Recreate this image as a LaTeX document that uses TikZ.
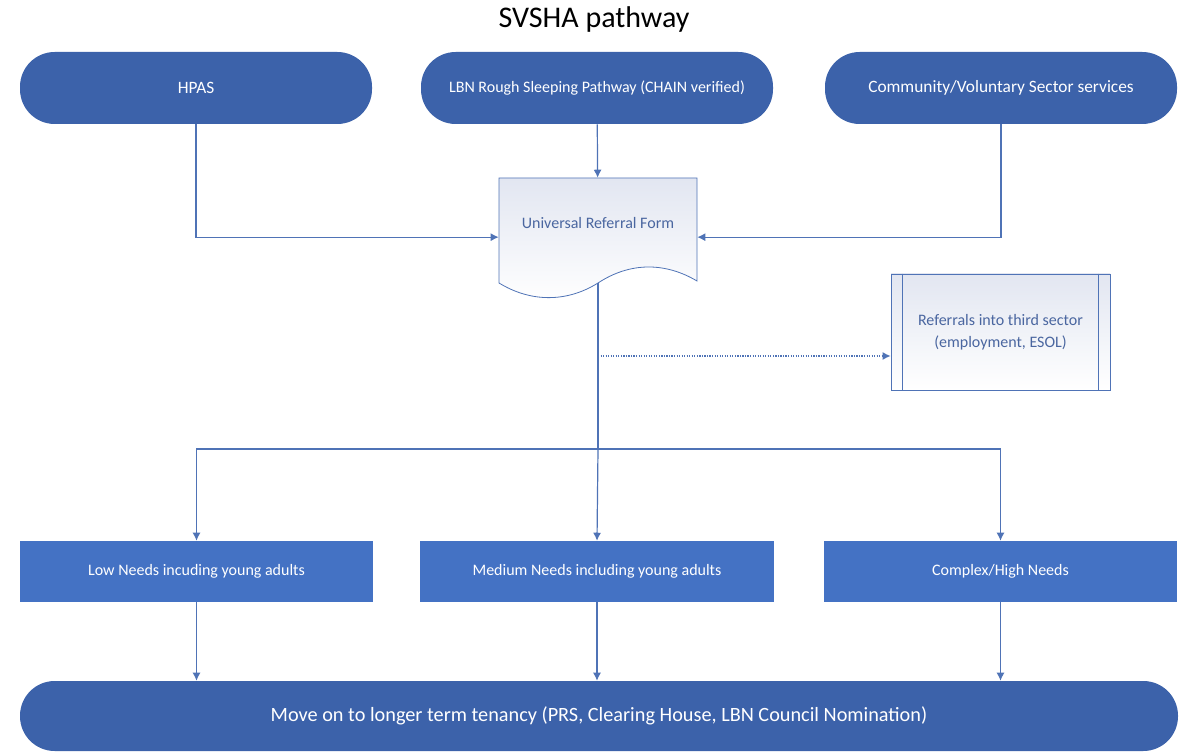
\documentclass[tikz,border=0pt]{standalone}
\usepackage{fontspec}
\setmainfont{Carlito}
\usetikzlibrary{arrows.meta}
\definecolor{fillblue}{HTML}{4472C4}
\definecolor{darkblue}{HTML}{3C62AA}
\definecolor{lineblue}{HTML}{4F73B6}
\definecolor{textblue}{HTML}{4A66A0}
\definecolor{paleblue}{HTML}{E2E6F1}
\tikzset{term/.style={draw=none,fill=darkblue,rounded corners=26pt,text=white,align=center,minimum width=264pt,minimum height=54pt,font=\fontsize{12}{15}\selectfont},proc/.style={draw=none,fill=fillblue,text=white,align=center,minimum width=265pt,minimum height=45.75pt,font=\fontsize{12}{15}\selectfont},line/.style={lineblue,line width=0.9pt},arr/.style={line,-{Latex[length=6pt,width=6pt]}},dotarr/.style={arr,densely dotted}}
\begin{document}
\begin{tikzpicture}[x=0.75pt,y=-0.75pt]
\useasboundingbox (0,0) rectangle (1182,752);
\node[font=\fontsize{22.5}{26}\selectfont] (title) at (594,20) {SVSHA pathway};
\node[term,font=\fontsize{13}{15}\selectfont] (hpas) at (196,88) {HPAS};
\node[term] (lbn) at (597,88) {LBN Rough Sleeping Pathway (CHAIN verified)};
\node[term,font=\fontsize{13}{15}\selectfont] (comm) at (1001,88) {Community/Voluntary Sector services};
% document shape
\draw[lineblue,line width=0.6pt,top color=paleblue,bottom color=white] (499,178) -- (697,178) -- (697,281) .. controls (665,262) and (630,262) .. (598,283) .. controls (566,303) and (530,302) .. (499,283) -- cycle;
\node[minimum width=148.5pt,minimum height=78.75pt,label={[text=textblue,font=\fontsize{12}{15}\selectfont,yshift=5.5pt]center:Universal Referral Form}] (urf) at (598,230.5) {};
\node[draw=lineblue,line width=0.6pt,top color=paleblue,bottom color=white,text=textblue,align=center,minimum width=164.25pt,minimum height=87pt,font=\fontsize{12}{16.5}\selectfont] (ref) at (1000.5,332) {Referrals into third sector\\(employment, ESOL)};
\draw[lineblue,line width=0.6pt] ([xshift=9pt]ref.north west) -- ([xshift=9pt]ref.south west) ([xshift=-9pt]ref.north east) -- ([xshift=-9pt]ref.south east);
\node[proc] (low) at (196.5,571.5) {Low Needs incuding young adults};
\node[proc] (med) at (597,571.5) {Medium Needs including young adults};
\node[proc] (comp) at (1000.5,571.5) {Complex/High Needs};
\node[term,minimum width=868.5pt,minimum height=52.5pt,font=\fontsize{15.2}{18}\selectfont] (move) at (599,716) {Move on to longer term tenancy (PRS, Clearing House, LBN Council Nomination)};
\coordinate (split) at (598,449);
\coordinate (tap) at (598,356);
\draw[arr] (hpas.south) |- ([yshift=-5pt]urf.west);
\draw[arr] (lbn) -- (urf);
\draw[arr] (comm.south) |- ([yshift=-5pt]urf.east);
\draw[line] (urf.south) -- (split);
\draw[dotarr] (tap) -- (tap -| ref.west);
\draw[arr] (split) -| (low.north);
\draw[arr] (split) -- (med.north);
\draw[arr] (split) -| (comp.north);
\draw[arr] (low) -- (low |- move.north);
\draw[arr] (med) -- (med |- move.north);
\draw[arr] (comp) -- (comp |- move.north);
\end{tikzpicture}
\end{document}
